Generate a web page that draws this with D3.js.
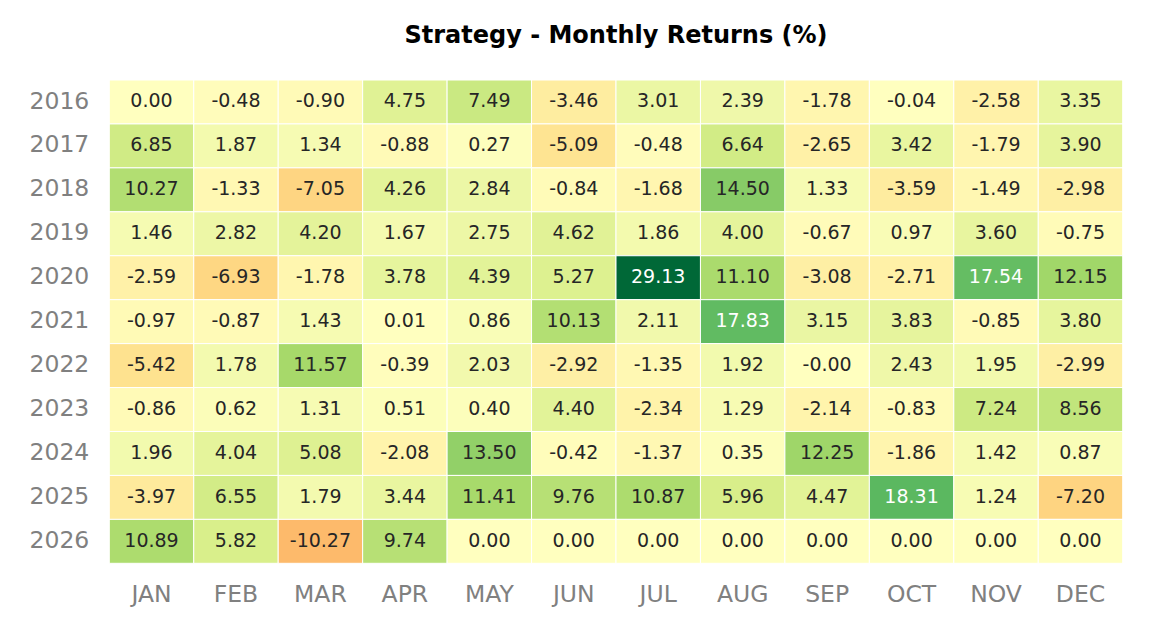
<!DOCTYPE html>
<html>
<head>
<meta charset="utf-8">
<script src="https://cdn.jsdelivr.net/npm/d3@7"></script>
<style>
    body { margin: 0; background: #fff; }
    text { font-family: "DejaVu Sans", sans-serif; }
</style>
</head>
<body>
<svg id="chart" width="1152" height="634"></svg>
<script>
// months along x, years down y
var months = ['JAN', 'FEB', 'MAR', 'APR', 'MAY', 'JUN', 'JUL', 'AUG', 'SEP', 'OCT', 'NOV', 'DEC'];
var years = ['2016', '2017', '2018', '2019', '2020', '2021', '2022', '2023', '2024', '2025', '2026'];

// monthly returns in %, one row per year
var r2016 = [0.00, -0.48, -0.90, 4.75, 7.49, -3.46, 3.01, 2.39, -1.78, -0.04, -2.58, 3.35];
var r2017 = [6.85, 1.87, 1.34, -0.88, 0.27, -5.09, -0.48, 6.64, -2.65, 3.42, -1.79, 3.90];
var r2018 = [10.27, -1.33, -7.05, 4.26, 2.84, -0.84, -1.68, 14.50, 1.33, -3.59, -1.49, -2.98];
var r2019 = [1.46, 2.82, 4.20, 1.67, 2.75, 4.62, 1.86, 4.00, -0.67, 0.97, 3.60, -0.75];
var r2020 = [-2.59, -6.93, -1.78, 3.78, 4.39, 5.27, 29.13, 11.10, -3.08, -2.71, 17.54, 12.15];
var r2021 = [-0.97, -0.87, 1.43, 0.01, 0.86, 10.13, 2.11, 17.83, 3.15, 3.83, -0.85, 3.80];
var r2022 = [-5.42, 1.78, 11.57, -0.39, 2.03, -2.92, -1.35, 1.92, -0.001, 2.43, 1.95, -2.99];
var r2023 = [-0.86, 0.62, 1.31, 0.51, 0.40, 4.40, -2.34, 1.29, -2.14, -0.83, 7.24, 8.56];
var r2024 = [1.96, 4.04, 5.08, -2.08, 13.50, -0.42, -1.37, 0.35, 12.25, -1.86, 1.42, 0.87];
var r2025 = [-3.97, 6.55, 1.79, 3.44, 11.41, 9.76, 10.87, 5.96, 4.47, 18.31, 1.24, -7.20];
var r2026 = [10.89, 5.82, -10.27, 9.74, 0.00, 0.00, 0.00, 0.00, 0.00, 0.00, 0.00, 0.00];

var returns = [r2016, r2017, r2018, r2019, r2020, r2021, r2022, r2023, r2024, r2025, r2026];

// matplotlib RdYlGn anchor colours
var rdylgn = ['#a50026', '#d73027', '#f46d43', '#fdae61', '#fee08b', '#ffffbf',
              '#d9ef8b', '#a6d96a', '#66bd63', '#1a9850', '#006837'];

(function (d3) {
    var svg = d3.select('#chart'),
        margin = {left: 109.3, right: 1152 - 1122.7, top: 80, bottom: 634 - 563.3},
        width = 1152 - margin.left - margin.right,
        height = 634 - margin.top - margin.bottom;

    var cells = [];
    returns.forEach(function (row, i) {
        row.forEach(function (v, j) {
            cells.push({year: years[i], month: months[j], value: v});
        });
    });

    // colour range centred on zero, like seaborn's center=0
    var all = d3.merge(returns),
        span = Math.max(d3.max(all), -d3.min(all)),
        norm = d3.scaleLinear().domain([-span, span]).range([0, 1]),
        cmap = d3.scaleLinear()
            .domain(rdylgn.map(function (c, i) { return i / (rdylgn.length - 1); }))
            .range(rdylgn)
            .interpolate(d3.interpolateRgb);

    function color(v) { return cmap(norm(v)); }

    function luminance(c) {
        var rgb = d3.rgb(c);
        var lin = [rgb.r, rgb.g, rgb.b].map(function (x) {
            x = x / 255;
            return x <= 0.03928 ? x / 12.92 : Math.pow((x + 0.055) / 1.055, 2.4);
        });
        return 0.2126 * lin[0] + 0.7152 * lin[1] + 0.0722 * lin[2];
    }

    var x = d3.scaleBand().domain(months).range([0, width]),
        y = d3.scaleBand().domain(years).range([0, height]);

    var g = svg.append('g')
        .attr('transform', 'translate(' + margin.left + ',' + margin.top + ')');

    g.selectAll('rect.cell')
        .data(cells)
        .enter().append('rect')
        .attr('class', 'cell')
        .attr('x', function (d) { return x(d.month); })
        .attr('y', function (d) { return y(d.year); })
        .attr('width', x.bandwidth())
        .attr('height', y.bandwidth())
        .attr('fill', function (d) { return color(d.value); })
        .attr('stroke', '#fff')
        .attr('stroke-width', 1);

    g.selectAll('text.annot')
        .data(cells)
        .enter().append('text')
        .attr('class', 'annot')
        .attr('x', function (d) { return x(d.month) + x.bandwidth() / 2; })
        .attr('y', function (d) { return y(d.year) + y.bandwidth() / 2; })
        .attr('dy', '0.28em')
        .attr('text-anchor', 'middle')
        .style('font-size', '19px')
        .attr('fill', function (d) { return luminance(color(d.value)) > 0.408 ? '#262626' : '#ffffff'; })
        .text(function (d) { return d.value.toFixed(2); });

    // axes without lines
    var xAxis = g.append('g')
        .attr('transform', 'translate(0,' + height + ')')
        .call(d3.axisBottom(x).tickSize(0).tickPadding(22));
    var yAxis = g.append('g')
        .call(d3.axisLeft(y).tickSize(0).tickPadding(20));

    [xAxis, yAxis].forEach(function (a) {
        a.select('.domain').remove();
        a.selectAll('text')
            .attr('fill', '#808080')
            .style('font-family', '"DejaVu Sans", sans-serif')
            .style('font-size', '23.5px');
    });
    yAxis.selectAll('text').attr('dy', '0.28em');

    svg.append('text')
        .attr('x', margin.left + width / 2)
        .attr('y', 43)
        .attr('text-anchor', 'middle')
        .style('font-size', '24px')
        .style('font-weight', 'bold')
        .attr('fill', '#000')
        .text('Strategy - Monthly Returns (%)');
}(window.d3));
</script>
</body>
</html>
